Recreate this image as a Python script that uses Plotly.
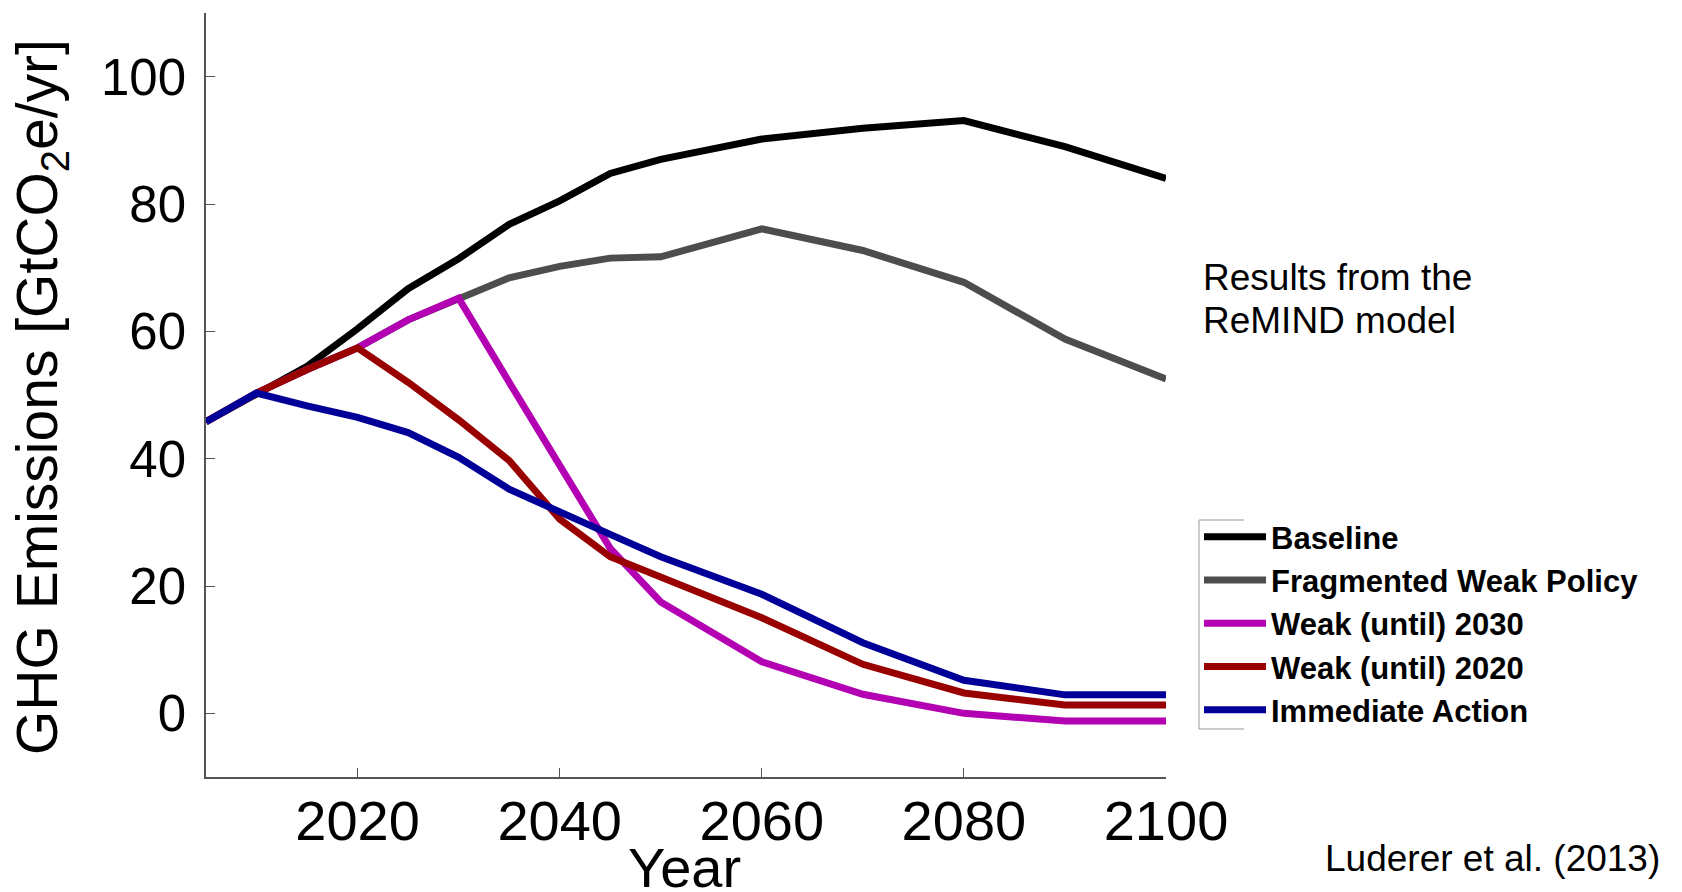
import plotly.graph_objects as go

years = [2005, 2010, 2015, 2020, 2025, 2030, 2035, 2040, 2045, 2050, 2060, 2070, 2080, 2090, 2100]

baseline = [45.8, 50.3, 54.5, 60.4, 66.7, 71.4, 76.8, 80.5, 84.8, 87.0, 90.2, 91.9, 93.1, 89.0, 84.0]
fragmented = [45.8, 50.3, 54.0, 57.4, 61.8, 65.2, 68.4, 70.2, 71.5, 71.7, 76.1, 72.7, 67.7, 58.8, 52.5]
weak2030 = [45.8, 50.3, 54.0, 57.4, 61.8, 65.2, 52.0, 39.0, 25.9, 17.5, 8.1, 3.0, 0.0, -1.2, -1.2]
weak2020 = [45.8, 50.3, 54.0, 57.4, 52.0, 46.1, 39.7, 30.5, 24.6, 21.4, 15.0, 7.7, 3.2, 1.3, 1.3]
immediate = [45.8, 50.3, 48.3, 46.5, 44.1, 40.2, 35.2, 31.5, 28.1, 24.6, 18.7, 11.1, 5.2, 2.9, 2.9]

series_names = ["Baseline", "Fragmented Weak Policy", "Weak (until) 2030", "Weak (until) 2020", "Immediate Action"]
series_values = [baseline, fragmented, weak2030, weak2020, immediate]
series_colors = ["#000000", "#4d4d4d", "#b300b3", "#990000", "#000099"]

x_ticks = [2020, 2040, 2060, 2080, 2100]
y_ticks = [0, 20, 40, 60, 80, 100]

fig = go.Figure()
for name, vals, col in zip(series_names, series_values, series_colors):
    fig.add_trace(go.Scatter(x=years, y=vals, mode="lines", name=name,
                             line=dict(color=col, width=7)))

L, R, T, B = 206, 1166, 13, 777
W, H = 1682, 892
pw, ph = R - L, B - T

def px(xp):
    return (xp - L) / pw

def py(yp):
    return (B - yp) / ph

arial = 'Liberation Sans, Arial, sans-serif'

fig.update_layout(
    width=W, height=H,
    margin=dict(l=L, r=W - R, t=T, b=H - B),
    paper_bgcolor="white", plot_bgcolor="white",
    showlegend=True,
    legend=dict(x=px(1199), y=py(510), xanchor="left", yanchor="top",
                xref="paper", yref="paper", itemwidth=62,
                font=dict(family=arial, size=31, color="black", weight="bold"),
                bgcolor="rgba(0,0,0,0)", borderwidth=0),
    xaxis=dict(range=[2005, 2100], tickvals=x_ticks, ticks="inside", ticklen=9,
               tickcolor="#555", showline=True, linecolor="#555", linewidth=1.5,
               showgrid=False, zeroline=False, mirror=False,
               tickfont=dict(family=arial, size=56, color="black"),
               ticklabelstandoff=-6),
    yaxis=dict(range=[-10, 110], tickvals=y_ticks, ticks="inside", ticklen=9,
               tickcolor="#555", showline=True, linecolor="#555", linewidth=1.5,
               showgrid=False, zeroline=False, mirror=False,
               tickfont=dict(family=arial, size=51, color="black"),
               ticklabelstandoff=8),
)

fig.add_annotation(text="GHG Emissions [GtCO<sub>2</sub>e/yr]", xref="paper", yref="paper",
                   x=px(41), y=py(397), xanchor="center", yanchor="middle",
                   textangle=-90, showarrow=False,
                   font=dict(family=arial, size=57, color="black"))
fig.add_annotation(text="Year", xref="paper", yref="paper",
                   x=px(684), y=py(868), xanchor="center", yanchor="middle",
                   showarrow=False, font=dict(family=arial, size=56, color="black"))
fig.add_annotation(text="Results from the", xref="paper", yref="paper",
                   x=px(1201), y=py(277), xanchor="left", yanchor="middle",
                   showarrow=False, font=dict(family=arial, size=37, color="black"))
fig.add_annotation(text="ReMIND model", xref="paper", yref="paper",
                   x=px(1201), y=py(320), xanchor="left", yanchor="middle",
                   showarrow=False, font=dict(family=arial, size=37, color="black"))
fig.add_annotation(text="Luderer et al. (2013)", xref="paper", yref="paper",
                   x=px(1323), y=py(858), xanchor="left", yanchor="middle",
                   showarrow=False, font=dict(family=arial, size=37, color="black"))

# partial legend border
bc = "#999999"
fig.add_shape(type="line", xref="paper", yref="paper", x0=px(1199), x1=px(1199),
              y0=py(520), y1=py(729), line=dict(color=bc, width=1))
fig.add_shape(type="line", xref="paper", yref="paper", x0=px(1199), x1=px(1244),
              y0=py(520), y1=py(520), line=dict(color=bc, width=1))
fig.add_shape(type="line", xref="paper", yref="paper", x0=px(1199), x1=px(1244),
              y0=py(729), y1=py(729), line=dict(color=bc, width=1))

fig.write_html("out.html")
